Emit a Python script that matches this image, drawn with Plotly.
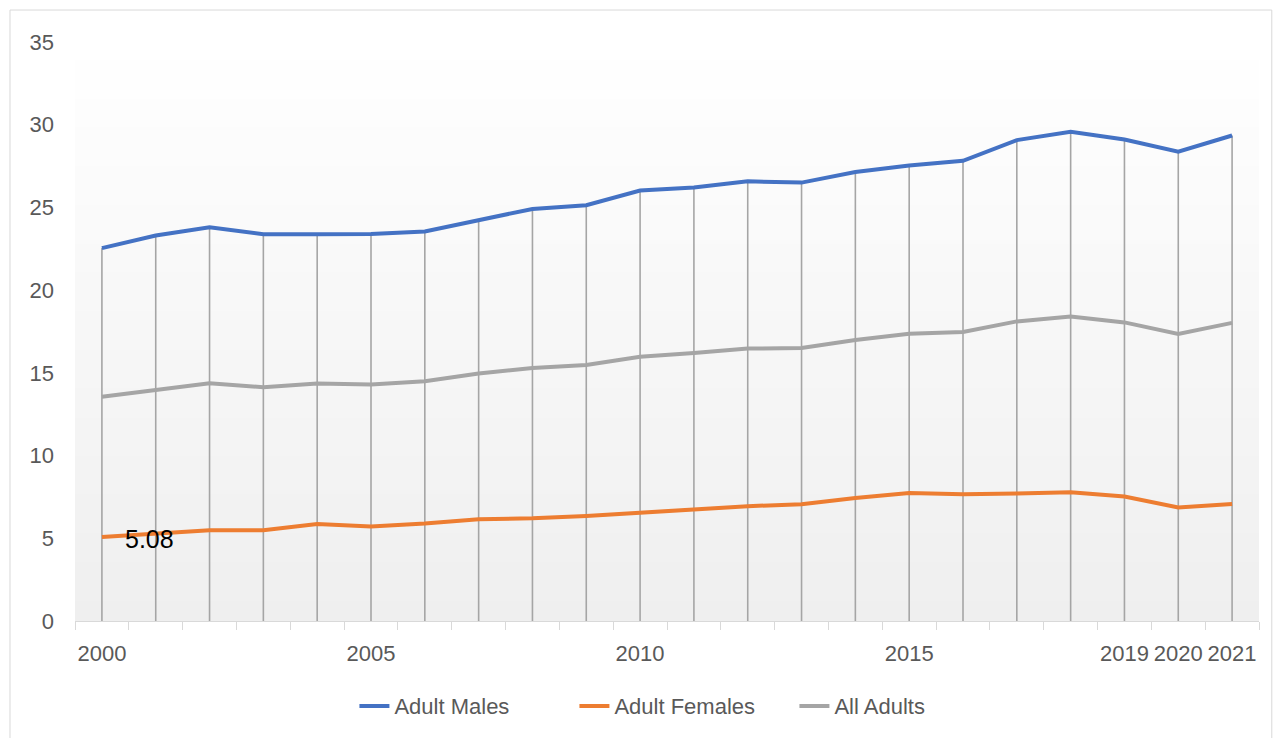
import plotly.graph_objects as go

# ---- data -------------------------------------------------------------
years = list(range(2000, 2022))

adult_males = [22.54, 23.30, 23.80, 23.38, 23.38, 23.40, 23.54, 24.23, 24.91, 25.13,
               26.02, 26.20, 26.58, 26.50, 27.14, 27.54, 27.82, 29.07, 29.57, 29.11,
               28.37, 29.35]
adult_females = [5.08, 5.31, 5.49, 5.49, 5.87, 5.71, 5.89, 6.15, 6.21, 6.35,
                 6.54, 6.77, 6.94, 7.06, 7.44, 7.74, 7.66, 7.70, 7.78, 7.52,
                 6.86, 7.08]
all_adults = [13.55, 13.99, 14.37, 14.13, 14.35, 14.29, 14.49, 14.96, 15.30, 15.48,
              15.98, 16.20, 16.47, 16.50, 16.99, 17.37, 17.47, 18.11, 18.41, 18.05,
              17.35, 18.02]

x_tick_years = [2000, 2005, 2010, 2015, 2019, 2020, 2021]
x_tick_labels = ["2000", "2005", "2010", "2015", "2019", "2020", "2021"]
y_ticks = [0, 5, 10, 15, 20, 25, 30, 35]

series = [
    ("Adult Males", adult_males, "#4472C4"),
    ("Adult Females", adult_females, "#ED7D31"),
    ("All Adults", all_adults, "#A5A5A5"),
]

FONT = "Liberation Sans Narrow, Arial Narrow, Liberation Sans, sans-serif"
TEXT_GREY = "#595959"

fig = go.Figure()

# drop lines from the highest point of each year down to the axis
drop_x, drop_y = [], []
for i, yr in enumerate(years):
    top = max(adult_males[i], adult_females[i], all_adults[i])
    drop_x += [yr, yr, None]
    drop_y += [top, 0, None]
fig.add_trace(go.Scatter(
    x=drop_x, y=drop_y, mode="lines",
    line=dict(color="#A5A5A5", width=1.6),
    showlegend=False, hoverinfo="skip",
))

for name, vals, color in series:
    fig.add_trace(go.Scatter(
        x=years, y=vals, mode="lines", name=name,
        line=dict(color=color, width=4),
    ))

# value label on the first female point
fig.add_annotation(
    x=years[0], y=adult_females[0], text=f"{adult_females[0]:.2f}",
    showarrow=False, xanchor="left", yanchor="middle",
    xshift=21, yshift=-2,
    font=dict(family=FONT, size=25, color="#000000"),
)

# vertical gradient behind the plotting area
n_bands = 60
top_c, bot_c = 255, 239
shapes = []
for k in range(n_bands):
    frac = (k + 0.5) / n_bands
    c = round(top_c + (bot_c - top_c) * frac)
    shapes.append(dict(
        type="rect", xref="x domain", yref="y domain",
        x0=0, x1=1, y0=1 - (k + 1) / n_bands, y1=1 - k / n_bands + 0.002,
        fillcolor=f"rgb({c},{c},{c})", line=dict(width=0), layer="below",
    ))

# outer chart border
shapes.append(dict(
    type="rect", xref="paper", yref="paper",
    x0=-0.0549, x1=1.0108, y0=-0.25, y1=1.0552,
    line=dict(color="#D9D9D9", width=1), fillcolor="rgba(0,0,0,0)", layer="above",
))

fig.update_layout(
    width=1275, height=738,
    margin=dict(l=75, r=16, t=42, b=116),
    paper_bgcolor="#FFFFFF",
    plot_bgcolor="rgba(0,0,0,0)",
    font=dict(family=FONT, size=22, color=TEXT_GREY),
    shapes=shapes,
    showlegend=True,
    legend=dict(
        orientation="h", x=0.236, xanchor="left", y=-0.145, yanchor="middle",
        font=dict(family=FONT, size=22, color=TEXT_GREY),
        bgcolor="rgba(0,0,0,0)", itemwidth=30,
        entrywidth=175, entrywidthmode="pixels",
    ),
    hovermode=False,
)

fig.update_xaxes(
    range=[1999.5, 2021.5],
    tickmode="array", tickvals=x_tick_years, ticktext=x_tick_labels,
    ticks="outside", ticklen=0, ticklabelstandoff=13,
    minor=dict(tickmode="array", tickvals=[y - 0.5 for y in years] + [2021.5],
               ticks="outside", ticklen=8, tickcolor="#D9D9D9", tickwidth=1),
    showline=True, linecolor="#D9D9D9", linewidth=1,
    showgrid=False, zeroline=False,
    tickfont=dict(family=FONT, size=22, color=TEXT_GREY),
)

fig.update_yaxes(
    range=[0, 35],
    tickmode="array", tickvals=y_ticks,
    ticks="", ticklabelstandoff=20,
    showline=False, showgrid=False, zeroline=False,
    tickfont=dict(family=FONT, size=22, color=TEXT_GREY),
)

fig.write_html("out.html")
